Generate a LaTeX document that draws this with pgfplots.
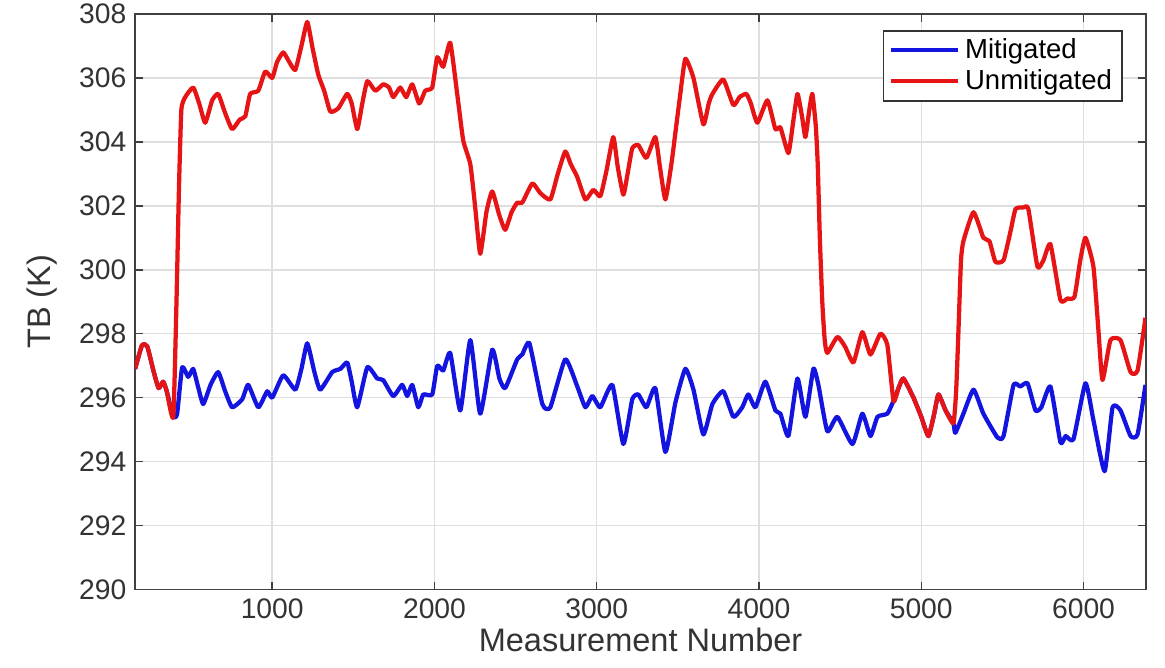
\documentclass[border=0pt]{standalone}
\usepackage{fontspec}
\setmainfont{Liberation Sans}
\usepackage{pgfplots}
\pgfplotsset{compat=1.18}
\usetikzlibrary{calc}
\definecolor{mitblue}{RGB}{20,20,225}
\definecolor{unmitred}{RGB}{230,20,20}

\begin{document}
\begin{tikzpicture}
\begin{axis}[
    scale only axis, width=404pt, height=230pt,
    xmin=155, xmax=6385, ymin=290, ymax=308,
    xtick={1000,2000,...,6000}, ytick={290,292,...,308},
    /pgf/number format/assume math mode=true,
    /pgf/number format/1000 sep={},
    tick label style={font=\fontsize{11.3}{13}\selectfont, color=black!80},
    xlabel={Measurement Number}, ylabel={TB (K)},
    label style={font=\fontsize{13}{15}\selectfont, color=black!80},
    xlabel style={at={(axis description cs:0.5,-0.087)}, anchor=center},
    ylabel style={at={(axis description cs:-0.092,0.5)}, anchor=center},
    grid=major, major grid style={color=black!13, line width=0.6pt},
    axis line style={color=black!75, line width=0.6pt},
    tick style={color=black!75, line width=0.6pt}, tick align=inside,
    major tick length=3pt,
    legend style={at={(axis description cs:0.977,0.972)}, anchor=north east,
        font=\fontsize{11}{13}\selectfont, draw=black!80, line width=0.6pt,
        inner xsep=2pt, inner ysep=1pt, row sep=-1pt},
    legend cell align=left,
    legend image code/.code={\draw[#1, line width=1.6pt] (0pt,0pt) -- (27pt,0pt);},
    every axis plot/.append style={line width=1.7pt, line join=round, smooth, tension=0.3},
]
\addplot[mitblue] coordinates {
(155,296.9) (198,297.65) (230,297.6) (270,296.8) (300,296.3) (328,296.5) (350,296.2) (390,295.4)
(414,295.5) (445,296.95) (482,296.65) (513,296.9) (545,296.3) (575,295.8) (620,296.4) (667,296.8)
(710,296.2) (753,295.7) (815,295.95) (852,296.4) (914,295.7) (969,296.2) (1000,296.0) (1068,296.7)
(1142,296.25) (1180,296.9) (1216,297.7) (1260,296.8) (1296,296.25) (1370,296.8) (1420,296.9) (1462,297.1)
(1490,296.5) (1524,295.7) (1586,296.95) (1647,296.6) (1684,296.55) (1746,296.05) (1801,296.4) (1832,296.05)
(1863,296.4) (1900,295.7) (1931,296.1) (1986,296.1) (2017,297.0) (2054,296.85) (2097,297.4) (2159,295.6)
(2221,297.8) (2282,295.5) (2356,297.5) (2400,296.6) (2436,296.3) (2510,297.2) (2541,297.35) (2585,297.7)
(2665,295.8) (2714,295.7) (2806,297.2) (2880,296.35) (2930,295.7) (2973,296.05) (3022,295.7) (3096,296.4)
(3164,294.55) (3219,295.95) (3256,296.1) (3306,295.7) (3361,296.3) (3423,294.3) (3485,295.85) (3546,296.9)
(3596,296.25) (3657,294.85) (3713,295.8) (3780,296.2) (3842,295.4) (3897,295.7) (3934,296.1) (3978,295.7)
(4039,296.5) (4101,295.6) (4132,295.5) (4181,294.8) (4237,296.6) (4286,295.4) (4335,296.9) (4366,296.4)
(4421,294.95) (4483,295.4) (4576,294.55) (4637,295.5) (4687,294.8) (4730,295.4) (4791,295.5) (4829,295.9)
(4860,296.3) (4890,296.6) (4952,296.0) (5000,295.4) (5044,294.8) (5080,295.5) (5106,296.1) (5150,295.6)
(5198,295.2) (5210,294.9) (5260,295.5) (5322,296.25) (5383,295.5) (5470,294.75) (5507,294.8) (5569,296.4)
(5610,296.35) (5655,296.45) (5704,295.6) (5740,295.7) (5796,296.35) (5858,294.6) (5890,294.8) (5938,294.7)
(6012,296.45) (6061,295.3) (6130,293.7) (6179,295.7) (6228,295.6) (6290,294.8) (6333,294.85) (6382,296.4)
};
\addlegendentry{Mitigated}
\addplot[unmitred] coordinates {
(155,296.9) (198,297.65) (230,297.6) (270,296.8) (300,296.3) (328,296.5) (350,296.2) (390,295.4)
(410,299.0) (425,302.5) (440,305.0) (464,305.4) (513,305.7) (550,305.2) (587,304.6) (630,305.3) (667,305.5)
(710,304.9) (753,304.4) (800,304.7) (834,304.8) (864,305.5) (914,305.6) (957,306.2) (1000,306.0)
(1030,306.5) (1068,306.8) (1105,306.5) (1142,306.25) (1180,307.0) (1216,307.75) (1250,306.9) (1284,306.1)
(1320,305.6) (1358,304.95) (1407,305.05) (1462,305.5) (1490,305.2) (1524,304.4) (1555,305.2) (1586,305.9)
(1635,305.6) (1684,305.8) (1720,305.7) (1746,305.4) (1789,305.7) (1826,305.4) (1863,305.8) (1906,305.2)
(1943,305.6) (1986,305.7) (2017,306.65) (2054,306.35) (2097,307.1) (2140,305.5) (2177,304.05) (2221,303.3)
(2250,302.0) (2282,300.5) (2320,301.8) (2356,302.45) (2400,301.7) (2436,301.25) (2475,301.8) (2510,302.1)
(2541,302.1) (2603,302.7) (2652,302.4) (2714,302.2) (2760,303.0) (2806,303.7) (2840,303.3) (2880,302.9)
(2930,302.2) (2979,302.5) (3022,302.3) (3060,303.1) (3102,304.15) (3130,303.2) (3164,302.35) (3190,303.0)
(3219,303.8) (3256,303.9) (3306,303.5) (3361,304.15) (3390,303.2) (3423,302.2) (3460,303.3) (3485,304.3)
(3515,305.5) (3546,306.6) (3596,306.0) (3657,304.55) (3690,305.2) (3713,305.5) (3780,305.95) (3842,305.15)
(3880,305.4) (3922,305.5) (3950,305.2) (3990,304.6) (4052,305.3) (4101,304.4) (4132,304.45) (4181,303.65)
(4210,304.6) (4237,305.5) (4265,304.8) (4286,304.15) (4310,305.0) (4329,305.5) (4350,304.5) (4362,303.3)
(4375,301.0) (4390,299.0) (4405,297.8) (4421,297.4) (4483,297.9) (4530,297.6) (4582,297.1) (4637,298.05) (4687,297.35)
(4748,298.0) (4791,297.65) (4829,295.9) (4860,296.3) (4890,296.6) (4952,296.0) (5000,295.4) (5044,294.8)
(5080,295.5) (5106,296.1) (5150,295.6) (5198,295.2) (5215,296.2) (5230,298.2) (5245,300.3) (5260,300.9) (5322,301.8)
(5383,301.0) (5420,300.9) (5457,300.25) (5507,300.3) (5550,301.2) (5581,301.9) (5630,301.95) (5660,301.9)
(5716,300.1) (5753,300.3) (5796,300.8) (5858,299.05) (5900,299.1) (5944,299.15) (5980,300.3) (6012,301.0)
(6061,300.1) (6092,298.1) (6117,296.55) (6166,297.8) (6228,297.8) (6290,296.8) (6333,296.85) (6382,298.5)
};
\addlegendentry{Unmitigated}
\end{axis}
\pgfresetboundingbox
\path (current axis.south west) ++(-54pt,-31.2pt) rectangle ($(current axis.north east)+(7.6pt,5.6pt)$);
\end{tikzpicture}
\end{document}
